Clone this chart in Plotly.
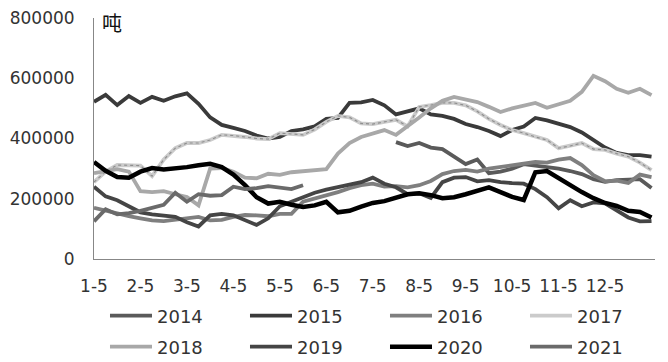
import plotly.graph_objects as go

# Category labels: four points per month, label shown on the first of each month
weeks = [f"{m}-{d}" for m in range(1, 13) for d in (5, 12, 19, 26)] + ["12-31"]
tick_labels = [f"{m}-5" for m in range(1, 13)]

years = ["2014", "2015", "2016", "2017", "2018", "2019", "2020", "2021"]

# 2014 starts late July
s2014_start = 26
s2014 = [388000, 375000, 385000, 370000, 365000, 340000, 315000, 330000, 285000,
         290000, 300000, 315000, 310000, 306000, 300000, 292000, 282000, 265000,
         256000, 262000, 262000, 265000, 236000]

s2015 = [522000, 545000, 511000, 541000, 518000, 538000, 525000, 540000, 550000,
         515000, 470000, 445000, 435000, 425000, 410000, 400000, 405000, 425000,
         430000, 440000, 465000, 468000, 518000, 520000, 528000, 510000, 480000,
         490000, 500000, 480000, 475000, 465000, 448000, 438000, 425000, 408000,
         428000, 440000, 468000, 460000, 450000, 438000, 420000, 395000, 370000,
         352000, 345000, 345000, 340000]

s2016 = [170000, 160000, 153000, 142000, 135000, 128000, 126000, 130000, 135000,
         140000, 128000, 130000, 140000, 146000, 145000, 142000, 150000, 150000,
         190000, 200000, 210000, 222000, 235000, 245000, 250000, 240000, 242000,
         238000, 245000, 259000, 282000, 292000, 296000, 290000, 300000, 305000,
         309000, 316000, 322000, 320000, 330000, 335000, 312000, 278000, 258000,
         260000, 252000, 280000, 272000]

s2017 = [255000, 290000, 312000, 312000, 310000, 275000, 330000, 368000, 385000,
         385000, 395000, 412000, 410000, 405000, 400000, 398000, 418000, 415000,
         412000, 430000, 455000, 475000, 470000, 450000, 448000, 455000, 462000,
         440000, 505000, 511000, 518000, 518000, 510000, 490000, 465000, 445000,
         428000, 418000, 405000, 395000, 368000, 375000, 385000, 365000, 362000,
         350000, 340000, 320000, 295000]

s2018 = [285000, 292000, 298000, 290000, 225000, 222000, 225000, 215000, 206000,
         178000, 300000, 302000, 290000, 270000, 268000, 283000, 279000, 288000,
         292000, 296000, 298000, 350000, 385000, 405000, 418000, 428000, 412000,
         440000, 470000, 500000, 525000, 538000, 530000, 521000, 505000, 488000,
         500000, 510000, 518000, 502000, 512000, 525000, 555000, 608000, 590000,
         565000, 552000, 565000, 544000]

s2019 = [240000, 208000, 195000, 175000, 155000, 148000, 144000, 140000, 122000,
         108000, 145000, 150000, 145000, 130000, 113000, 135000, 175000, 190000,
         206000, 220000, 230000, 238000, 245000, 255000, 270000, 250000, 238000,
         215000, 218000, 203000, 255000, 270000, 272000, 258000, 262000, 255000,
         252000, 250000, 232000, 205000, 168000, 195000, 175000, 188000, 185000,
         160000, 138000, 125000, 126000]

s2020 = [322000, 293000, 272000, 270000, 290000, 302000, 297000, 300000, 305000,
         311000, 316000, 305000, 280000, 245000, 205000, 184000, 190000, 180000,
         173000, 178000, 190000, 155000, 160000, 174000, 186000, 192000, 203000,
         215000, 218000, 212000, 202000, 205000, 215000, 228000, 238000, 222000,
         206000, 196000, 288000, 292000, 268000, 248000, 222000, 202000, 186000,
         176000, 160000, 156000, 138000]

s2021 = [125000, 165000, 148000, 152000, 160000, 170000, 180000, 220000, 190000,
         215000, 210000, 212000, 240000, 232000, 235000, 242000, 236000, 232000,
         245000]

colors = {"2014": "#5a5a5a", "2015": "#3a3a3a", "2016": "#7f7f7f", "2017": "#cbcbcb",
          "2018": "#a8a8a8", "2019": "#454545", "2020": "#000000", "2021": "#6a6a6a"}

series = {
    "2014": (weeks[s2014_start:s2014_start + len(s2014)], s2014),
    "2015": (weeks[:len(s2015)], s2015),
    "2016": (weeks[:len(s2016)], s2016),
    "2017": (weeks[:len(s2017)], s2017),
    "2018": (weeks[:len(s2018)], s2018),
    "2019": (weeks[:len(s2019)], s2019),
    "2020": (weeks[:len(s2020)], s2020),
    "2021": (weeks[:len(s2021)], s2021),
}

FONT = "DejaVu Sans, Noto Sans CJK SC, sans-serif"
fig = go.Figure()
for i, y in enumerate(years):
    xs, vals = series[y]
    leg = "legend" if i < 4 else "legend2"
    fig.add_trace(go.Scatter(x=xs, y=vals, mode="lines", name=y, legend=leg,
                             line=dict(color=colors[y], width=4.5 if y == "2020" else 3.8),
                             hoverinfo="skip"))
    if y == "2017":
        fig.add_trace(go.Scatter(x=xs, y=vals, mode="lines", showlegend=False,
                                 line=dict(color="#8f8f8f", width=1.2, dash="dot"),
                                 hoverinfo="skip"))

legend_common = dict(orientation="h", x=0.0196, xanchor="left", yanchor="middle",
                     entrywidth=83, entrywidthmode="pixels", itemwidth=42,
                     font=dict(size=18, color="#333333"), bgcolor="rgba(0,0,0,0)")

# page body has an 8px default margin, so the figure is sized/placed to compensate
fig.update_layout(
    width=660, height=354,
    margin=dict(l=86, r=13, t=10, b=103, autoexpand=False),
    paper_bgcolor="white", plot_bgcolor="white",
    font=dict(family=FONT, size=17, color="#333333"),
    xaxis=dict(type="category", categoryorder="array", categoryarray=weeks,
               range=[0, 48.3], tickmode="array", tickvals=tick_labels, ticktext=tick_labels,
               showgrid=False, showline=True, linecolor="#878787", linewidth=1,
               ticks="", ticklabelstandoff=12, zeroline=False,
               tickfont=dict(size=17)),
    yaxis=dict(range=[0, 800000], dtick=200000, tickformat="d", showgrid=False,
               showline=True, linecolor="#878787", linewidth=1, ticks="",
               ticklabelstandoff=15, zeroline=False, tickfont=dict(size=17),
               ticklabeloverflow="allow"),
    legend=dict(y=-0.2365, **legend_common),
    legend2=dict(y=-0.365, **legend_common),
    annotations=[dict(text="吨", xref="paper", yref="paper", x=0.011, y=0.983,
                      xanchor="left", yanchor="middle", showarrow=False,
                      font=dict(size=20, color="#111111", family="Noto Sans CJK SC"))],
)

fig.write_html("out.html")
